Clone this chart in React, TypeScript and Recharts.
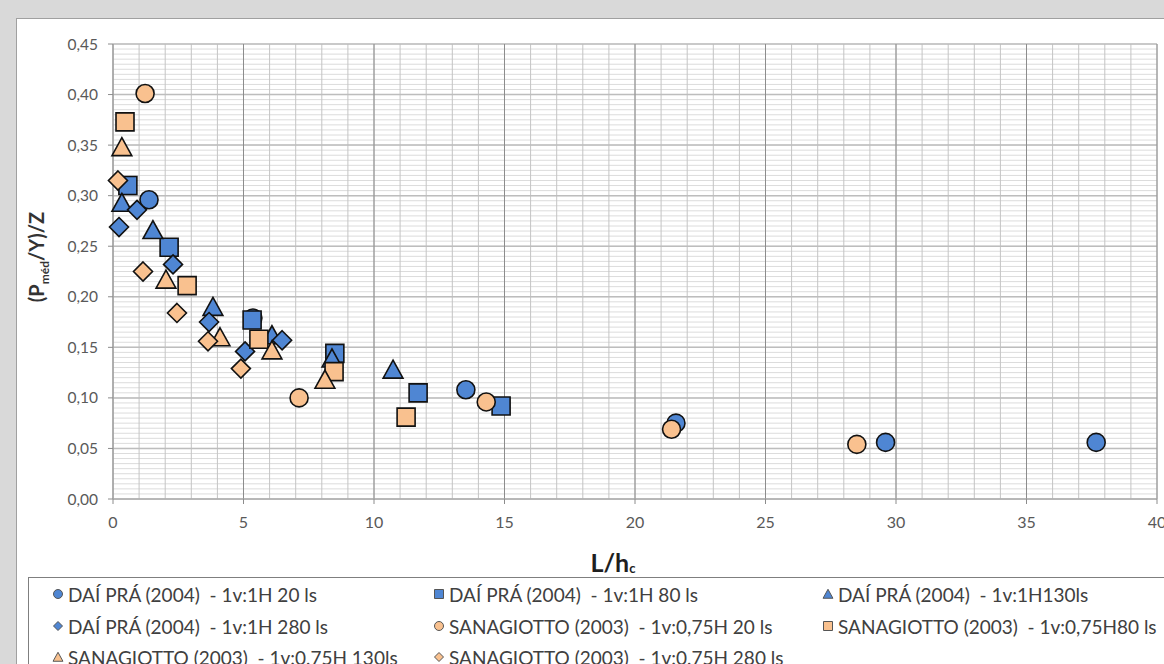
import React from 'react';
import { ScatterChart, Scatter, XAxis, YAxis, CartesianGrid } from 'recharts';

const BLUE = '#4F86D3';
const ORANGE = '#F9C18F';

// L/hc , (Pmed/Y)/Z
const daiPra20 = [
  { x: 1.38, y: 0.296 }, { x: 5.36, y: 0.179 }, { x: 13.52, y: 0.108 },
  { x: 21.57, y: 0.075 }, { x: 29.6, y: 0.056 }, { x: 37.67, y: 0.056 },
];
const daiPra80 = [
  { x: 0.57, y: 0.31 }, { x: 2.15, y: 0.249 }, { x: 5.33, y: 0.177 },
  { x: 8.5, y: 0.144 }, { x: 11.69, y: 0.105 }, { x: 14.87, y: 0.092 },
];
const daiPra130 = [
  { x: 0.34, y: 0.293 }, { x: 1.53, y: 0.266 }, { x: 3.83, y: 0.19 },
  { x: 6.09, y: 0.162 }, { x: 8.39, y: 0.139 }, { x: 10.73, y: 0.128 },
];
const daiPra280 = [
  { x: 0.23, y: 0.269 }, { x: 0.92, y: 0.286 }, { x: 2.3, y: 0.232 },
  { x: 3.68, y: 0.175 }, { x: 5.06, y: 0.146 }, { x: 6.48, y: 0.157 },
];
const sanagiotto20 = [
  { x: 1.23, y: 0.401 }, { x: 7.13, y: 0.1 }, { x: 14.3, y: 0.096 },
  { x: 21.4, y: 0.069 }, { x: 28.5, y: 0.054 },
];
const sanagiotto80 = [
  { x: 0.46, y: 0.373 }, { x: 2.84, y: 0.211 }, { x: 5.59, y: 0.158 },
  { x: 8.47, y: 0.126 }, { x: 11.23, y: 0.081 },
];
const sanagiotto130 = [
  { x: 0.34, y: 0.348 }, { x: 2.03, y: 0.217 }, { x: 4.1, y: 0.16 },
  { x: 6.09, y: 0.147 }, { x: 8.12, y: 0.118 },
];
const sanagiotto280 = [
  { x: 0.19, y: 0.315 }, { x: 1.15, y: 0.225 }, { x: 2.45, y: 0.184 },
  { x: 3.64, y: 0.156 }, { x: 4.9, y: 0.129 },
];

const X_TICKS = [0, 5, 10, 15, 20, 25, 30, 35, 40];
const Y_TICKS = [0, 0.05, 0.1, 0.15, 0.2, 0.25, 0.3, 0.35, 0.4, 0.45];
const X_MINOR = Array.from({ length: 41 }, (_, i) => i);
const Y_MINOR = Array.from({ length: 91 }, (_, i) => Number((i * 0.005).toFixed(3)));

const series = [
  { name: 'DAÍ PRÁ (2004)  - 1v:1H 20 ls', data: daiPra20, kind: 'circle', color: BLUE },
  { name: 'DAÍ PRÁ (2004)  - 1v:1H 80 ls', data: daiPra80, kind: 'square', color: BLUE },
  { name: 'DAÍ PRÁ (2004)  - 1v:1H130ls', data: daiPra130, kind: 'triangle', color: BLUE },
  { name: 'DAÍ PRÁ (2004)  - 1v:1H 280 ls', data: daiPra280, kind: 'diamond', color: BLUE },
  { name: 'SANAGIOTTO (2003)  - 1v:0,75H 20 ls', data: sanagiotto20, kind: 'circle', color: ORANGE },
  { name: 'SANAGIOTTO (2003)  - 1v:0,75H80 ls', data: sanagiotto80, kind: 'square', color: ORANGE },
  { name: 'SANAGIOTTO (2003)  - 1v:0,75H 130ls', data: sanagiotto130, kind: 'triangle', color: ORANGE },
  { name: 'SANAGIOTTO (2003)  - 1v:0,75H 280 ls', data: sanagiotto280, kind: 'diamond', color: ORANGE },
];

const FONT = 'Lato, "Open Sans", sans-serif';

function markerPath(kind: string, cx: number, cy: number, s: number) {
  if (kind === 'square') {
    return `M${cx - s},${cy - s}H${cx + s}V${cy + s}H${cx - s}Z`;
  }
  if (kind === 'triangle') {
    const h = s * 1.05;
    return `M${cx},${cy - h}L${cx + s * 1.1},${cy + h * 0.9}L${cx - s * 1.1},${cy + h * 0.9}Z`;
  }
  if (kind === 'diamond') {
    return `M${cx},${cy - s}L${cx + s},${cy}L${cx},${cy + s}L${cx - s},${cy}Z`;
  }
  return '';
}

const Marker = ({ cx, cy, kind, fill, size, stroke, sw }: any) => {
  if (cx == null || cy == null) return null;
  if (kind === 'circle') {
    return <circle cx={cx} cy={cy} r={size} fill={fill} stroke={stroke} strokeWidth={sw} />;
  }
  return <path d={markerPath(kind, cx, cy, size)} fill={fill} stroke={stroke} strokeWidth={sw} strokeLinejoin="miter" />;
};

const shapeFor = (kind: string, fill: string) => (props: any) => (
  <Marker cx={props.cx} cy={props.cy} kind={kind} fill={fill} size={kind === 'diamond' ? 9.5 : 9} stroke="#111" sw={1.6} />
);

const fmtY = (v: number) => v.toFixed(2).replace('.', ',');

const LEGEND_COLS = [29, 410, 799];
const LEGEND_ROWS = [16, 48, 79];

const App = () => {
  return (
    <div style={{ position: 'fixed', left: 0, top: 0, width: 1164, height: 664, background: '#d9d9d9', overflow: 'hidden', fontFamily: FONT }}>
      <div style={{ position: 'absolute', left: 16, top: 18, width: 1160, height: 660, background: '#fff', border: '1px solid #a0a0a0' }}>
        <ScatterChart width={1160} height={660} margin={{ top: 25, right: 20, bottom: 150, left: 36 }}>
          <CartesianGrid vertical={false} horizontalValues={Y_MINOR} stroke="#dcdcdc" strokeWidth={1} />
          <CartesianGrid horizontal={false} verticalValues={X_MINOR} stroke="#c4c4c4" strokeWidth={1} />
          <CartesianGrid vertical={false} stroke="#bdbdbd" strokeWidth={1.5} />
          <CartesianGrid horizontal={false} stroke="#8c8c8c" strokeWidth={1} />
          <XAxis
            type="number"
            dataKey="x"
            domain={[0, 40]}
            ticks={X_TICKS}
            interval={0}
            height={30}
            tickSize={5}
            tickMargin={13}
            axisLine={{ stroke: '#a6a6a6' }}
            tickLine={{ stroke: '#8c8c8c' }}
            tick={{ fill: '#595959', fontSize: 16, fontFamily: FONT }}
          />
          <YAxis
            type="number"
            dataKey="y"
            domain={[0, 0.45]}
            ticks={Y_TICKS}
            interval={0}
            width={60}
            tickSize={5}
            tickMargin={10}
            tickFormatter={fmtY}
            axisLine={{ stroke: '#a6a6a6' }}
            tickLine={{ stroke: '#8c8c8c' }}
            tick={{ fill: '#595959', fontSize: 15.5, fontFamily: FONT }}
          />
          {series.map((s) => (
            <Scatter
              key={s.name}
              name={s.name}
              data={s.data}
              shape={shapeFor(s.kind, s.color)}
              isAnimationActive={false}
            />
          ))}
        </ScatterChart>

        <div
          style={{
            position: 'absolute', left: 21, top: 238, transform: 'translate(-50%, -50%) rotate(-90deg)',
            whiteSpace: 'nowrap', fontWeight: 700, fontSize: 20, color: '#333',
          }}
        >
          (P<sub style={{ fontSize: 12 }}>méd</sub>/Υ)/Z
        </div>
        <div
          style={{
            position: 'absolute', left: 596, top: 543, transform: 'translate(-50%, -50%)',
            whiteSpace: 'nowrap', fontWeight: 700, fontSize: 25, color: '#1f1f1f',
          }}
        >
          L/h<span style={{ fontSize: 13, position: 'relative', top: 1 }}>c</span>
        </div>

        <div style={{ position: 'absolute', left: 11, top: 558, width: 1200, height: 200, border: '1.5px solid #7f7f7f', background: '#fff' }}>
          {series.map((s, i) => {
            const col = LEGEND_COLS[i % 3];
            const row = LEGEND_ROWS[Math.floor(i / 3)];
            return (
              <div key={s.name} style={{ position: 'absolute', left: col - 6, top: row - 12, height: 24, display: 'flex', alignItems: 'center', whiteSpace: 'pre', fontSize: 19, color: '#404040' }}>
                <svg width={12} height={12} style={{ marginRight: 4 }}>
                  <Marker cx={6} cy={6} kind={s.kind} fill={s.color} size={4.5} stroke="#555" sw={1} />
                </svg>
                {s.name}
              </div>
            );
          })}
        </div>
      </div>
    </div>
  );
};

export default App;
